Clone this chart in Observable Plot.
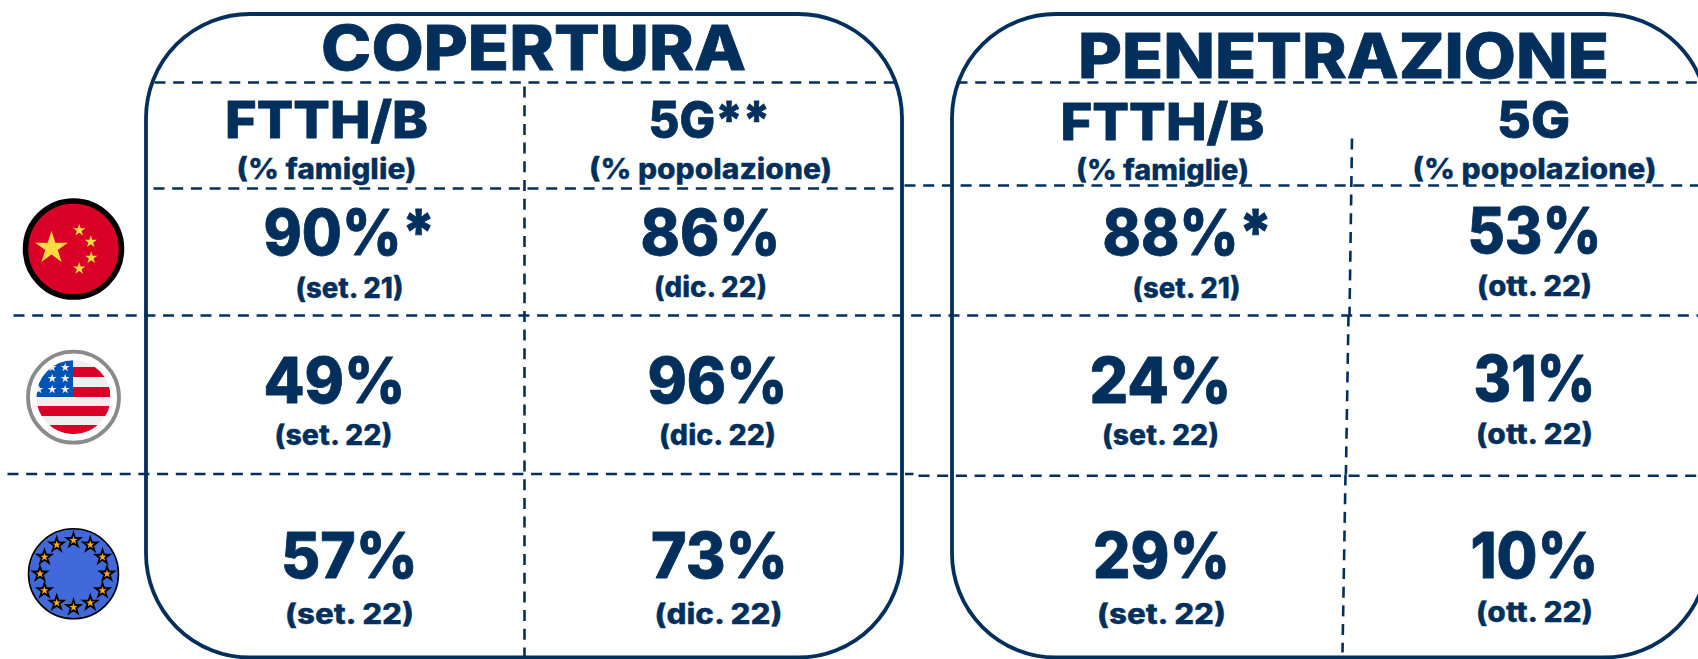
<!DOCTYPE html>
<html><head><meta charset="utf-8">
<script src="https://cdn.jsdelivr.net/npm/d3@7"></script>
<script src="https://cdn.jsdelivr.net/npm/@observablehq/plot@0.6"></script>
<style>html,body{margin:0;padding:0;background:#fff;overflow:hidden}svg{display:block}</style>
</head><body><div id="chart"></div>
<script>
// ---- values
const panels = ["COPERTURA", "PENETRAZIONE"];
const metrics = ["FTTH/B", "5G**", "FTTH/B", "5G"];
const bases = ["(% famiglie)", "(% popolazione)", "(% famiglie)", "(% popolazione)"];
const countries = ["Cina", "USA", "UE"];
const coverageFtth = ["90%*", "49%", "57%"];
const coverage5g = ["86%", "96%", "73%"];
const penetrationFtth = ["88%*", "24%", "29%"];
const penetration5g = ["53%", "31%", "10%"];
const coverageFtthDates = ["(set. 21)", "(set. 22)", "(set. 22)"];
const coverage5gDates = ["(dic. 22)", "(dic. 22)", "(dic. 22)"];
const penetrationFtthDates = ["(set. 21)", "(set. 22)", "(set. 22)"];
const penetration5gDates = ["(ott. 22)", "(ott. 22)", "(ott. 22)"];

// ---- layout (data space equals the picture's pixels)
const W = 1698, H = 659, ink = "#022f5b", font = "Inter, 'Noto Sans', sans-serif";
const panelLayout = [
  {x1: 146, x2: 902, titleX: 533, titleY: 69, w: 425},
  {x1: 952, x2: 1708, titleX: 1343, titleY: 77, w: 531}
];
const metricX = [326, 709, 1162, 1533], metricY = [137, 137, 139, 137], baseY = [178, 178, 179, 178];
const metricW = [203, 122, 204, 73], baseW = [180, 243, 173, 244], baseX = [326, 710, 1162, 1534];
const valueX = [[349, 334, 349], [710, 717, 719], [1187, 1160, 1161], [1534, 1534, 1534]];
const valueY = [[254, 402, 577], [254, 402, 577], [254, 402, 577], [252, 400, 577]];
const valueW = [[172, 142, 137], [140, 140, 137], [170, 142, 137], [134, 122, 128]];
const dateX = [[349, 333, 349], [710, 717, 718], [1186, 1160, 1161], [1534, 1534, 1534]];
const dateY = [[297, 444, 623], [296, 444, 623], [297, 444, 623], [295, 443, 621]];
const dateW = [[108, 118, 129], [113, 117, 128], [108, 117, 129], [115, 117, 117]];
const valueCols = [coverageFtth, coverage5g, penetrationFtth, penetration5g];
const dateCols = [coverageFtthDates, coverage5gDates, penetrationFtthDates, penetration5gDates];

const cells = valueCols.flatMap((col, c) => col.map((v, r) => ({t: v, x: valueX[c][r], y: valueY[c][r], w: valueW[c][r]})));
const dates = dateCols.flatMap((col, c) => col.map((v, r) => ({t: v, x: dateX[c][r], y: dateY[c][r], w: dateW[c][r]})));
const metricRows = metrics.map((t, i) => ({t, x: metricX[i], y: metricY[i], w: metricW[i]}));
const baseRows = bases.map((t, i) => ({t, x: baseX[i], y: baseY[i], w: baseW[i]}));
const titles = panels.map((t, i) => ({t, x: panelLayout[i].titleX, y: panelLayout[i].titleY, w: panelLayout[i].w}));

const dashLinks = [
  [154, 82, 895, 82], [956, 82, 1698, 82],
  [153, 188, 893, 188], [904, 185, 1698, 185],
  [13, 315, 1698, 315],
  [7, 473.5, 913, 473.5], [918, 475.3, 1698, 475.3],
  [524, 86, 524, 657],
  [1351.5, 138, 1349, 315], [1348, 315, 1345.4, 474], [1345, 474, 1342, 652]
].map(([x1, y1, x2, y2]) => ({x1, y1, x2, y2}));

// flags
const flagX = 73, flagY = [248.5, 396.7, 573.3];
const cnStars = [[51, 247.5, 10.3], [78.7, 229.7, 3.9], [90.3, 241.3, 3.9], [90.7, 257.3, 3.9], [78.7, 268, 3.9]]
  .map(([x, y, r]) => ({x, y, r}));
const usStripes = [[360, 367, "#eeeeee"], [367, 377, "#d80027"], [377, 387, "#eeeeee"], [387, 397, "#d80027"],
  [397, 406, "#eeeeee"], [406, 416, "#d80027"], [416, 425, "#eeeeee"], [425, 434, "#d80027"]]
  .map(([y1, y2, fill]) => ({y1, y2, fill}));
const usStars = [[51.7, 367], [64.7, 367], [51.7, 378], [64.7, 378], [38.3, 389], [51.7, 389], [64.7, 389]]
  .map(([x, y]) => ({x, y}));
const euClock = [0, 1, 2, 3, 4, 5, 6, 7, 8, 9, 10, 11];
const euStars = euClock.map(h => ({
  x: flagX + 33.5 * Math.sin(h * Math.PI / 6),
  y: flagY[2] - 33.5 * Math.cos(h * Math.PI / 6)
}));

const textOpts = (size, sw) => ({
  x: "x", y: "y", text: "t", fill: ink, stroke: ink, strokeWidth: sw, fontSize: size, fontWeight: 800,
  fontFamily: font, lineAnchor: "bottom", textAnchor: "middle"
});

const chart = Plot.plot({
  width: W, height: H, margin: 0,
  x: {domain: [0, W], range: [0, W], axis: null},
  y: {domain: [0, H], range: [0, H], axis: null},
  r: {type: "identity"},
  style: {background: "#fff"},
  marks: [
    Plot.rect(panelLayout, {x1: "x1", x2: "x2", y1: () => 14, y2: () => 657.5, rx: 104, ry: 104, fill: "none", stroke: ink, strokeWidth: 3.8}),
    Plot.link(dashLinks, {x1: "x1", y1: "y1", x2: "x2", y2: "y2", stroke: ink, strokeWidth: 2.6, strokeDasharray: "11 7.7"}),

    // China
    Plot.dot([0], {x: () => flagX, y: () => flagY[0], r: () => 48, fill: "#d80027", stroke: "#000", strokeWidth: 5.5}),
    Plot.dot(cnStars, {x: "x", y: "y", r: "r", symbol: "star", fill: "#ffda44"}),
    // USA
    Plot.rect(usStripes, {x1: () => 36, x2: () => 110, y1: "y1", y2: "y2", fill: "fill"}),
    Plot.rect([0], {x1: () => 36, x2: () => 73, y1: () => 360, y2: () => 397, fill: "#0052b4"}),
    Plot.dot(usStars, {x: "x", y: "y", r: () => 2.8, symbol: "star", fill: "#f0f0f0"}),
    Plot.dot([0], {x: () => flagX, y: () => flagY[1], r: () => 46.5, fill: "none", stroke: "#fff", strokeWidth: 19}),
    Plot.dot([0], {x: () => flagX, y: () => flagY[1], r: () => 45.5, fill: "none", stroke: "#8a8a8a", strokeWidth: 3.8}),
    // EU
    Plot.dot([0], {x: () => flagX, y: () => flagY[2], r: () => 45, fill: "#4269d9", stroke: "#000", strokeWidth: 1.6}),
    Plot.dot(euStars, {x: "x", y: "y", r: () => 4.4, symbol: "star", fill: "#ffa726", stroke: "#000", strokeWidth: 1.8}),

    Plot.text(titles, textOpts(62, 0.8)),
    Plot.text(metricRows, textOpts(51, 0.8)),
    Plot.text(baseRows, textOpts(28, 0.3)),
    Plot.text(cells, textOpts(63, 0.8)),
    Plot.text(dates, textOpts(28, 0.3))
  ]
});
// Match the original's wide letterforms: fit each label to its measured width.
const widths = [...titles, ...metricRows, ...baseRows, ...cells, ...dates].map(d => d.w);
d3.select(chart).selectAll("text").each(function (_, i) {
  this.setAttribute("textLength", widths[i]);
  this.setAttribute("lengthAdjust", "spacingAndGlyphs");
});
chart.setAttribute("role", "img");
chart.setAttribute("aria-label", countries.join(", "));
document.getElementById("chart").append(chart);
</script></body></html>
